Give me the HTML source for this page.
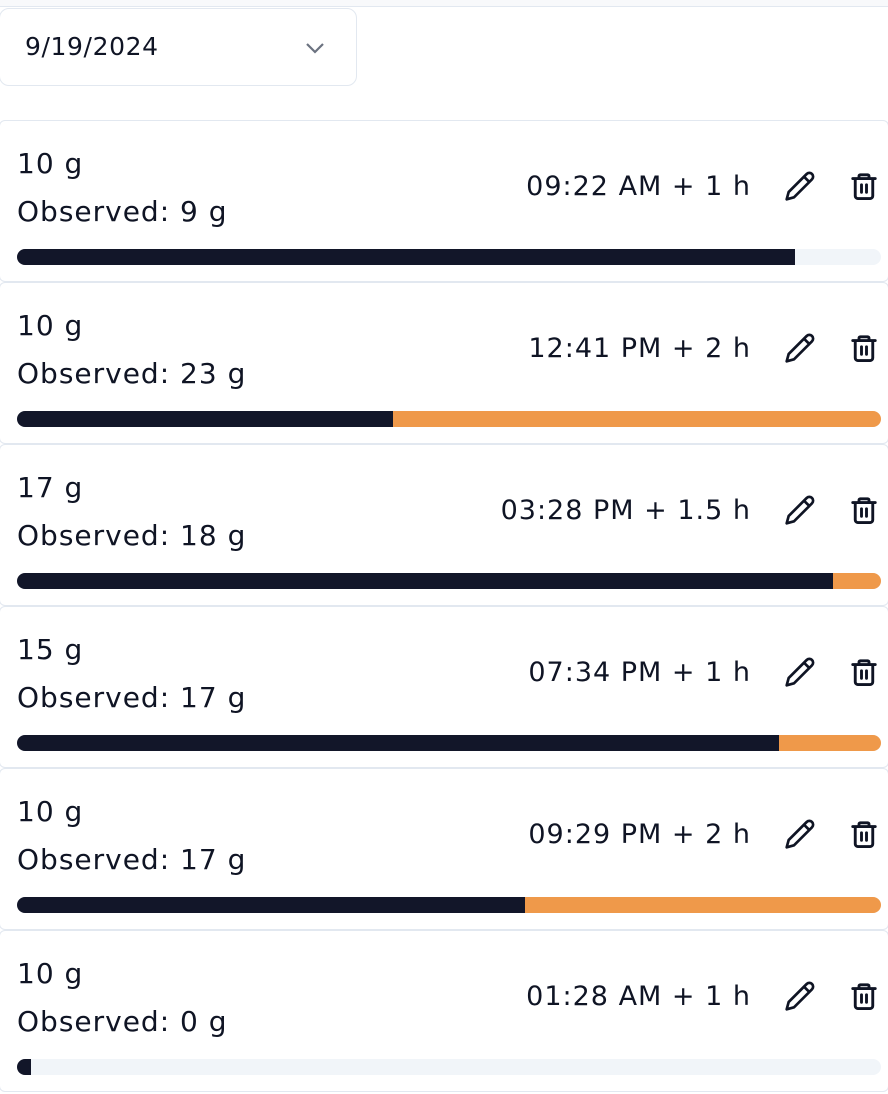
<!DOCTYPE html>
<html><head><meta charset="utf-8"><style>
body{margin:0;width:888px;height:1094px;overflow:hidden;background:#fff;font-family:"DejaVu Sans","Liberation Sans",sans-serif;color:#0f1424;position:relative}
.top{position:absolute;left:0;top:0;width:888px;height:6px;background:#f8f9fb;border-bottom:1px solid #e2e8f0}
.dd{position:absolute;left:-1px;top:8px;width:356px;height:76px;border:1px solid #e2e8f0;border-radius:10px;box-sizing:content-box}
.dd span{position:absolute;left:25px;top:23px;font-size:25px;letter-spacing:0.6px}
.dd svg{position:absolute;left:304px;top:32px}
.card{position:absolute;left:-1px;width:888px;height:160px;border:1px solid #e2e8f0;border-radius:6px;background:#fff}
.t1,.t2{position:absolute;left:17px;font-size:28px;letter-spacing:1px}
.t1{top:26px}.t2{top:74px}
.time{position:absolute;right:137px;top:50px;font-size:27px;letter-spacing:1px}
.pen{position:absolute;left:784px;top:49px}
.bin{position:absolute;left:849px;top:49px}
.bar{position:absolute;left:17px;top:128px;width:864px;height:16px;border-radius:8px;background:#f1f5f9;overflow:hidden}
.bar div{position:absolute;top:0;height:16px}
</style></head><body>
<div class="top"></div>
<div class="dd"><span>9/19/2024</span>
<svg width="22" height="14" viewBox="0 0 22 14"><path d="M3 3l8 8 8-8" fill="none" stroke="#6b7280" stroke-width="2.2"/></svg></div>
<div id="list"></div>
<script>
const targets=[10,10,17,15,10,10];
const observed=[9,23,18,17,17,0];
const times=["09:22 AM + 1 h","12:41 PM + 2 h","03:28 PM + 1.5 h","07:34 PM + 1 h","09:29 PM + 2 h","01:28 AM + 1 h"];
const list=document.getElementById('list');
const W=864;
targets.forEach((t,i)=>{
 const o=observed[i];
 const c=document.createElement('div');
 c.className='card';c.style.top=(120+i*162)+'px';
 
 
 let dark,orange=0;
 if(o<=t){dark=Math.max(o/t*W,14);}else{dark=t/o*W;orange=W-dark;}
 c.innerHTML=`<div class="t1">${t} g</div>
<div class="t2">Observed: ${o} g</div>
<div class="time">${times[i]}</div>
<svg class="pen" width="32" height="32" viewBox="0 0 24 24"><path d="M17 3a2.8 2.8 0 0 1 4 4L7.5 20.5 2 22l1.5-5.5Z M15 5l4 4" fill="none" stroke="#0f1424" stroke-width="2" stroke-linejoin="round"/></svg>
<svg class="bin" width="30" height="32" viewBox="0 0 24 24"><path d="M3 6h18M8 6V4a1 1 0 0 1 1-1h6a1 1 0 0 1 1 1v2M5 6v14a2 2 0 0 0 2 2h10a2 2 0 0 0 2-2V6M10 11v6M14 11v6" fill="none" stroke="#0f1424" stroke-width="2.3" stroke-linecap="round"/></svg>
<div class="bar"><div style="left:0;width:${dark}px;background:#121629"></div>${orange?`<div style="left:${dark}px;width:${orange}px;background:#ef994a"></div>`:''}</div>`;
 list.appendChild(c);
});
</script>
</body></html>
